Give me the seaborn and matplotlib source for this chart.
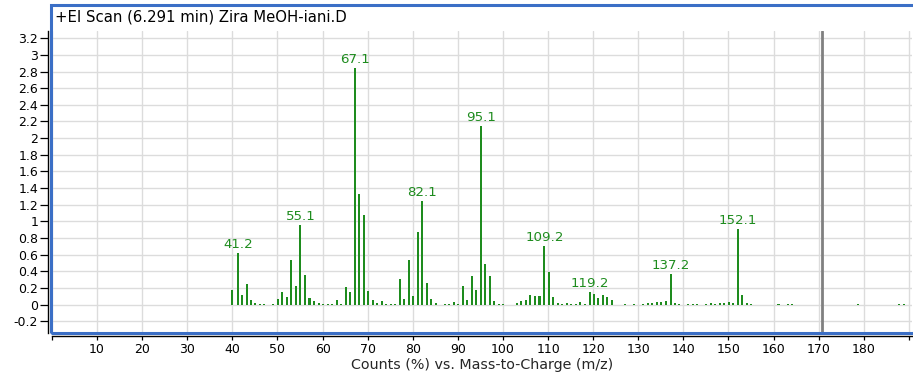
import numpy as np
import pandas as pd
import matplotlib
matplotlib.use("Agg")
import matplotlib.pyplot as plt
import seaborn as sns
from matplotlib.patches import Rectangle
from matplotlib.ticker import FuncFormatter

# ---------------- data ----------------
mz = [39.9, 41.2, 42.1, 43.2, 44.1, 45.1, 46.1, 47.1, 49.1, 50.1, 51.1, 52.1, 53.1, 54.1,
      55.1, 56.1, 57.1, 58.1, 59.1, 60.1, 61.1, 62.1, 63.1, 64.1, 65.1, 66.1, 67.1, 68.1,
      69.1, 70.1, 71.1, 72.1, 73.1, 74.1, 75.1, 76.1, 77.1, 78.1, 79.1, 80.1, 81.1, 82.1,
      83.1, 84.1, 85.1, 87.1, 88.1, 89.1, 90.1, 91.1, 92.1, 93.1, 94.1, 95.1, 96.1, 97.1,
      98.1, 99.1, 100.1, 103.1, 104.1, 105.1, 106.1, 107.1, 108.1, 109.2, 110.1, 111.1,
      112.1, 113.1, 114.1, 115.1, 116.1, 117.1, 118.1, 119.2, 120.1, 121.1, 122.1, 123.1,
      124.1, 127.1, 129.1, 131.1, 132.1, 133.1, 134.1, 135.1, 136.1, 137.2, 138.1, 139.1,
      141.1, 142.1, 143.1, 145.1, 146.1, 147.1, 148.1, 149.1, 150.1, 151.1, 152.1, 153.1,
      154.1, 155.1, 161.1, 163.1, 164.1, 178.7, 187.8, 188.9]
intensity = [0.18, 0.62, 0.11, 0.25, 0.05, 0.02, 0.006, 0.006, 0.006, 0.07, 0.15, 0.09, 0.53, 0.22,
             0.96, 0.35, 0.08, 0.04, 0.02, 0.006, 0.006, 0.01, 0.06, 0.01, 0.21, 0.15, 2.84, 1.33,
             1.08, 0.16, 0.05, 0.02, 0.04, 0.01, 0.01, 0.006, 0.31, 0.07, 0.53, 0.10, 0.87, 1.24,
             0.26, 0.07, 0.02, 0.006, 0.01, 0.03, 0.006, 0.22, 0.05, 0.34, 0.18, 2.14, 0.49, 0.34,
             0.04, 0.01, 0.006, 0.02, 0.04, 0.06, 0.11, 0.10, 0.10, 0.70, 0.39, 0.09,
             0.02, 0.006, 0.02, 0.01, 0.01, 0.03, 0.01, 0.15, 0.13, 0.08, 0.12, 0.09,
             0.05, 0.006, 0.006, 0.01, 0.02, 0.02, 0.03, 0.03, 0.04, 0.37, 0.02, 0.006,
             0.006, 0.006, 0.006, 0.01, 0.02, 0.01, 0.02, 0.02, 0.03, 0.02, 0.91, 0.11,
             0.02, 0.006, 0.006, 0.006, 0.006, 0.006, 0.006, 0.006]
peak_labels = ["41.2", "55.1", "67.1", "82.1", "95.1", "109.2", "119.2", "137.2", "152.1"]
x_ticks = list(range(0, 200, 10))
x_ticklabels = ["" if t in (0, 190) else str(t) for t in x_ticks]
y_ticks = [round(-0.2 + 0.2 * i, 1) for i in range(18)]
title = "+EI Scan (6.291 min) Zira MeOH-iani.D"
xlabel = "Counts (%) vs. Mass-to-Charge (m/z)"
marker_line = 170.8

df = pd.DataFrame({"mz": mz, "intensity": intensity})

# ---------------- style ----------------
sns.set_style("white")
plt.rcParams["font.family"] = ["DejaVu Sans"]
GREEN = "#1E8C1E"
BLUE = "#3B6FC6"

W, H = 913, 374
fig = plt.figure(figsize=(W / 100, H / 100), dpi=100)
fig.patch.set_facecolor("white")
ax = fig.add_axes([52 / W, (H - 333) / H, (912 - 52) / W, (333 - 31) / H])

uniq = np.unique(df["mz"].to_numpy())
min_step = np.min(np.diff(uniq))
sns.barplot(data=df, x="mz", y="intensity", native_scale=True, color=GREEN,
            saturation=1, width=0.45 / min_step, errorbar=None, linewidth=0, ax=ax, zorder=3)

ax.set_xlim(0, 190.7)
ax.set_ylim(-0.3425, 3.287)

ax.set_xticks(x_ticks)
ax.set_xticklabels(x_ticklabels)
ax.set_yticks(y_ticks)
ax.yaxis.set_major_formatter(FuncFormatter(lambda v, p: "%g" % round(v, 1)))

ax.grid(True, color="#dcdcdc", linewidth=1.0, zorder=0)
ax.set_axisbelow(True)

ax.axvline(marker_line, color="#808080", linewidth=2.0, zorder=4)

for s in ("top", "right"):
    ax.spines[s].set_visible(False)
ax.spines["left"].set_position(("outward", 3))
ax.spines["bottom"].set_position(("outward", 2.5))
for s in ("left", "bottom"):
    ax.spines[s].set_color("black")
    ax.spines[s].set_linewidth(1.0)

ax.tick_params(axis="y", direction="out", length=5.5, width=0.9, pad=1.5,
               labelsize=9, colors="black", left=True)
ax.tick_params(axis="x", direction="out", length=3, width=0.9, pad=1.5,
               labelsize=9, colors="black", bottom=True)

ax.set_xlabel(xlabel, fontsize=10.3, labelpad=2)
ax.set_ylabel("")

# peak annotations
for lab in peak_labels:
    v = float(lab)
    i = int(np.argmin(np.abs(df["mz"].to_numpy() - v)))
    ax.annotate(lab, (df["mz"].iloc[i], df["intensity"].iloc[i]), xytext=(0, 1.5),
                textcoords="offset points", ha="center", va="bottom",
                color=GREEN, fontsize=9.6, zorder=5)

# blue frame around title + plot area
frame = Rectangle((51 / W, (H - 333) / H), (916 - 51) / W, (333 - 5) / H,
                  transform=fig.transFigure, fill=False, edgecolor=BLUE,
                  linewidth=2.2, zorder=10)
fig.add_artist(frame)

fig.text(55 / W, 1 - 17 / H, title, ha="left", va="center", fontsize=10.7, color="black")

fig.savefig("out.png", dpi=100)
